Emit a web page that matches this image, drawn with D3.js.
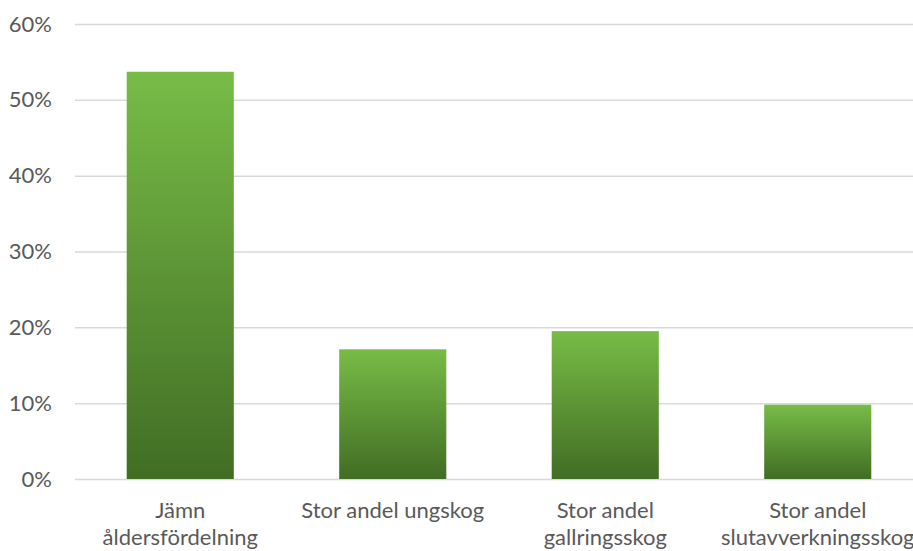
<!DOCTYPE html>
<html><head><meta charset="utf-8">
<script src="https://cdn.jsdelivr.net/npm/d3@7"></script>
<style>body{margin:0;background:#fff}svg{display:block}</style>
</head><body>
<svg id="chart" width="913" height="551"></svg>
<script>
const categories = ["Jämn\nåldersfördelning", "Stor andel ungskog", "Stor andel\ngallringsskog", "Stor andel\nslutavverkningsskog"];
const values = [0.537, 0.171, 0.195, 0.098];
const yTicks = [0, 0.1, 0.2, 0.3, 0.4, 0.5, 0.6];

const svg = d3.select("#chart");
const font = "Lato, sans-serif";
const x = d3.scaleBand().domain(categories).range([74, 924]).paddingInner(0.496).paddingOuter(0.248);
const y = d3.scaleLinear().domain([0, 0.6]).range([479, 24]);

const defs = svg.append("defs");
const g = defs.append("linearGradient").attr("id", "grad").attr("x1", 0).attr("y1", 0).attr("x2", 0).attr("y2", 1);
g.append("stop").attr("offset", "0%").attr("stop-color", "#78bc47");
g.append("stop").attr("offset", "100%").attr("stop-color", "#416d24");

// gridlines
const yAxis = d3.axisLeft(y).tickValues(yTicks).tickFormat(d3.format(".0%")).tickSize(-(913 - 75)).tickPadding(23);
const ga = svg.append("g").attr("transform", "translate(75,0)").call(yAxis);
ga.select(".domain").remove();
ga.selectAll(".tick line").attr("stroke", "#d9d9d9").attr("stroke-width", 1.5);
ga.selectAll(".tick text").attr("fill", "#595959").style("font-family", font).style("font-size", "22px");

// bars
svg.append("g").selectAll("rect").data(values).join("rect")
  .attr("x", (d, i) => x(categories[i]))
  .attr("width", x.bandwidth())
  .attr("y", d => y(d))
  .attr("height", d => y(0) - y(d))
  .attr("fill", "url(#grad)");

// category labels
const xa = svg.append("g").attr("transform", `translate(0,${y(0)})`)
  .call(d3.axisBottom(x).tickSize(0).tickFormat(""));
xa.select(".domain").remove();
xa.selectAll(".tick").each(function(d) {
  const t = d3.select(this).append("text").attr("fill", "#595959").attr("text-anchor", "middle")
    .style("font-family", font).style("font-size", "22px");
  d.split("\n").forEach((line, i) => {
    t.append("tspan").attr("x", 0).attr("y", 39 + i * 27).text(line);
  });
});
</script>
</body></html>
